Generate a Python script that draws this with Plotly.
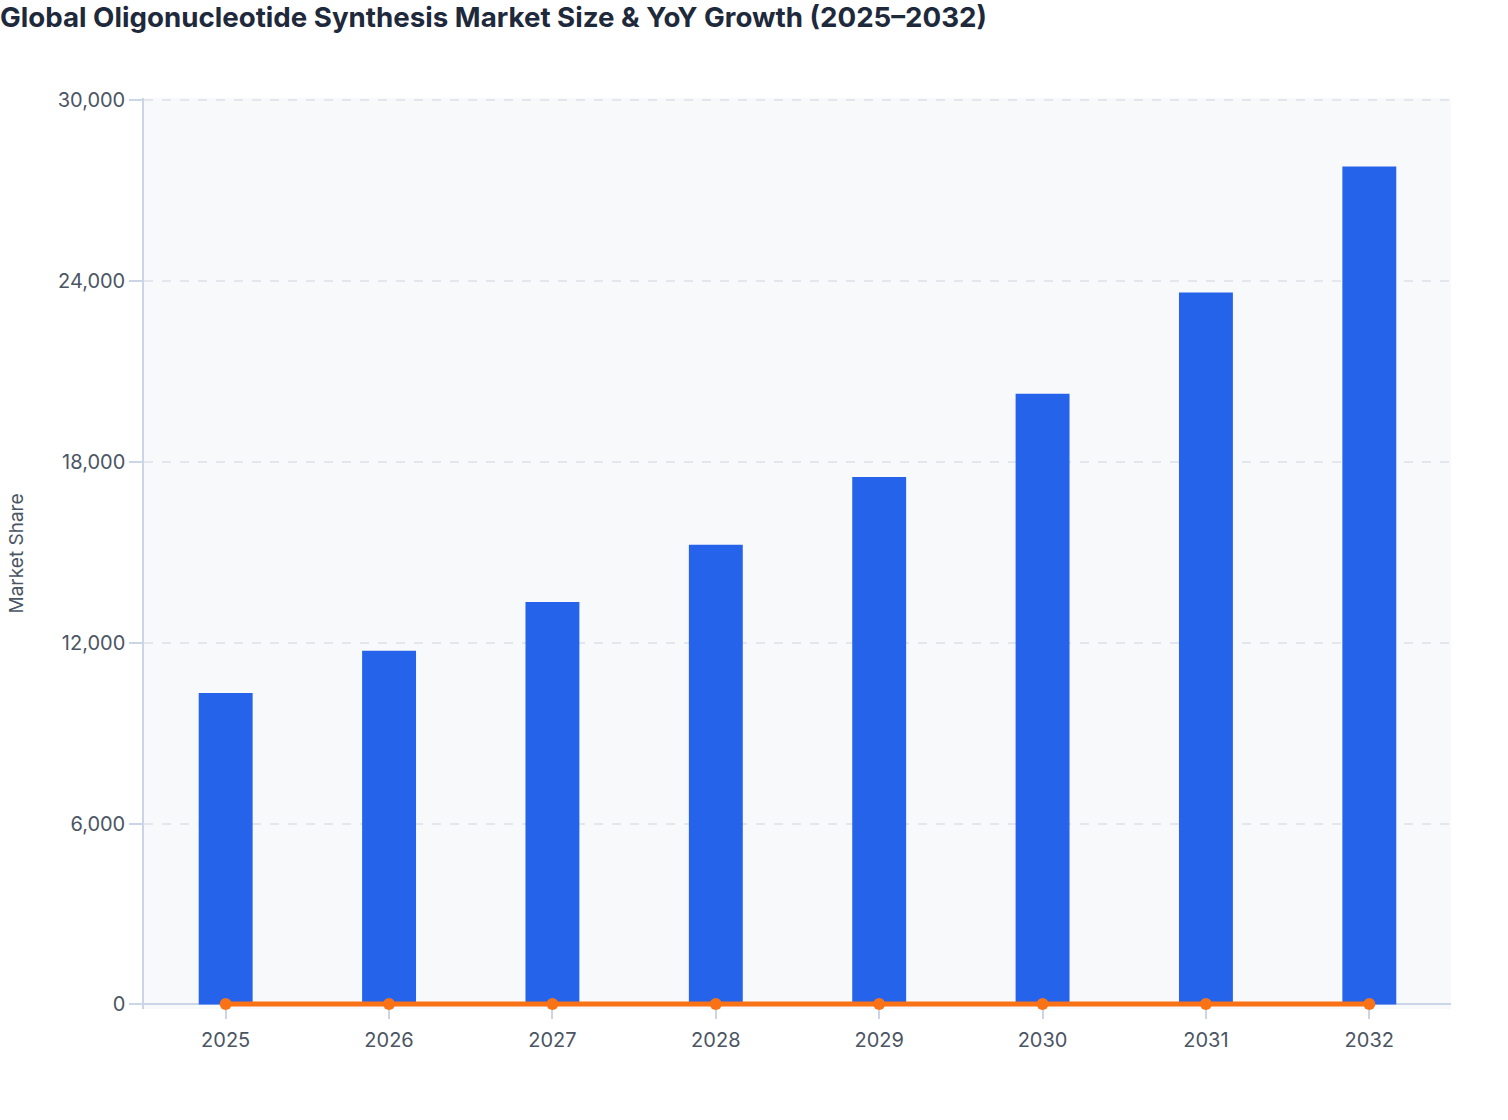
import plotly.graph_objects as go

# data
years = ['2025', '2026', '2027', '2028', '2029', '2030', '2031', '2032']
market_size = [10330, 11730, 13350, 15250, 17500, 20260, 23620, 27800]
yoy_growth = [12.8, 13.5, 13.8, 14.2, 14.8, 15.8, 16.6, 17.7]

fig = go.Figure()

# market size bars
fig.add_trace(go.Bar(x=years, y=market_size, name='Market Size',
                     marker=dict(color='#2563eb', line=dict(width=0))))

# yoy growth line (on same axis, so it sits on the floor)
fig.add_trace(go.Scatter(x=years, y=yoy_growth, name='YoY Growth', mode='lines+markers',
                         line=dict(color='#f97316', width=5),
                         marker=dict(color='#f97316', size=12),
                         cliponaxis=False))

fig.update_layout(
    width=1508, height=1120,
    title=dict(text='<b>Global Oligonucleotide Synthesis Market Size & YoY Growth (2025\u20132032)</b>',
               x=0.0, xref='container', xanchor='left', y=0.985, yref='container', yanchor='middle',
               font=dict(family='Inter', size=27.7, color='#1e293b')),
    font=dict(family='Inter', color='#4b5563', size=19),
    paper_bgcolor='white', plot_bgcolor='#f8f9fb',
    margin=dict(l=144, r=57, t=98, b=110.5),
    showlegend=False,
    bargap=0.67,
)

# x axis line is drawn as the y zeroline so the growth line is not cut in half at the bottom
fig.update_xaxes(type='category', range=[-0.5, 7.5], showgrid=False, showline=False,
                 ticks='outside', ticklen=9, tickcolor='#cbd5e8', tickwidth=1.5,
                 ticklabelstandoff=4,
                 tickfont=dict(size=20, color='#4b5563'))

fig.update_yaxes(range=[-150, 30070], tickvals=[0, 6000, 12000, 18000, 24000, 30000],
                 tickformat=',', showgrid=True, gridcolor='#e3e6ec', griddash='dash', gridwidth=1.5,
                 zeroline=True, zerolinecolor='#cbd5e8', zerolinewidth=1.5,
                 showline=True, linecolor='#cbd5e8', linewidth=1.5,
                 ticks='outside', ticklen=13, tickcolor='#cbd5e8', tickwidth=1.5,
                 tickfont=dict(size=20, color='#4b5563'),
                 title=dict(text='Market Share', font=dict(size=19, color='#4b5563'), standoff=29))

# page body has a default 8px margin, drop it so the figure sits at the window corner
fig.write_html("out.html", config={'displayModeBar': False},
               post_script="document.body.style.margin='0';")
